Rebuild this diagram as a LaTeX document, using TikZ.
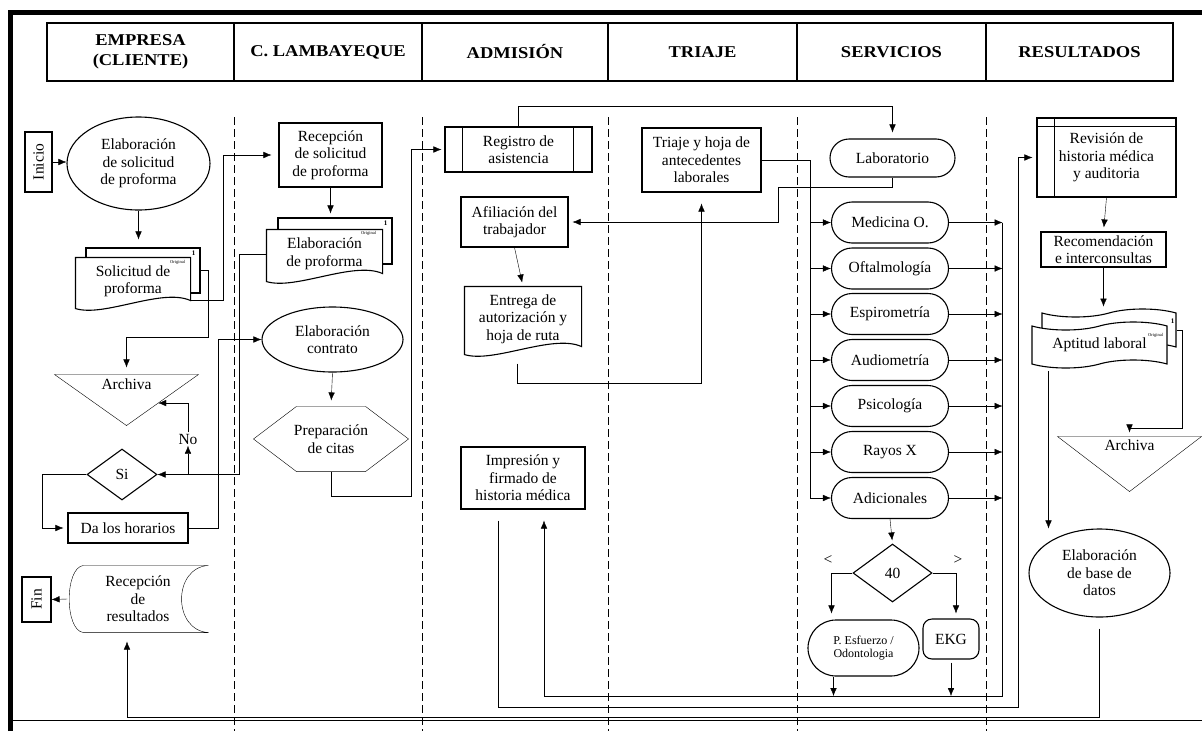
\documentclass[tikz,border=0pt]{standalone}
\usepackage{fontspec}
\usepackage{graphicx}
\setmainfont{Liberation Serif}
\newfontfamily\headfont[FakeStretch=1.12]{Liberation Serif Bold}
\usetikzlibrary{arrows.meta,calc,backgrounds,shapes.geometric,shapes.misc,shapes.symbols}

\newcommand{\drawbox}{\node[draw,rectangle,align=center,inner sep=1pt]}
\newcommand{\drawpill}{\node[draw,rounded rectangle,align=center,inner sep=1pt]}
\newcommand{\drawellip}{\node[draw,ellipse,align=center,inner sep=0pt]}
\newcommand{\drawdiam}{\node[draw,diamond,align=center,inner sep=0pt]}
\newcommand{\drawplain}{\node[align=center,inner sep=0pt]}
\newcommand{\drawsheet}{\node[draw,rectangle,fill=white,inner sep=0pt,line width=1.1pt]}
\newcommand{\drawtape}{\node[draw,tape,fill=white,align=center,inner sep=0pt,tape bend height=8pt]}
\newcommand{\drawhead}{\node[draw,rectangle,align=center,inner sep=0pt,minimum height=58pt,font=\headfont\fontsize{16.5pt}{20pt}\selectfont]}
\newcommand{\tinyorig}{\node[inner sep=0pt,font=\fontsize{4.5pt}{5pt}\selectfont]}
\newcommand{\tinyone}{\node[inner sep=0pt,font=\bfseries\fontsize{7pt}{8pt}\selectfont]}

% document outline with a wavy lower edge
\newcommand{\docline}[1]{\draw[fill=white,line width=1.1pt] (#1.north west) -- (#1.north east) -- ($(#1.south east)+(0,-5)$) .. controls ($(#1.south)!0.5!(#1.south east)+(0,-18)$) and ($(#1.south)!0.5!(#1.south west)+(0,12)$) .. ($(#1.south west)+(0,3)$) -- cycle;}

\begin{document}
\begin{tikzpicture}[x=1pt,y=-1pt,line width=1.1pt,>={Latex[length=8pt,width=6.5pt]},
  every node/.style={font=\fontsize{15.5pt}{17.5pt}\selectfont},
  lane/.style={line width=1pt,dash pattern=on 8pt off 4pt}]
\useasboundingbox (0,0) rectangle (1202,731);

%frame and swimlanes
\draw[line width=5pt] (10.5,731) -- (10.5,12.5) -- (1202,12.5);
\draw[line width=1pt] (10.5,720) -- (1202,720);
\draw[lane] (234,117) -- (234,731);
\draw[lane] (422,117) -- (422,731);
\draw[lane] (608,117) -- (608,731);
\draw[lane] (797,117) -- (797,731);
\draw[lane] (986,117) -- (986,731);

%header row
\drawhead[minimum width=187pt] (hEmp) at (140.5,52) {EMPRESA\\(CLIENTE)};
\drawhead[minimum width=188pt] (hLam) at (328,52) {C. LAMBAYEQUE};
\drawhead[minimum width=186pt] (hAdm) at (515,52) {ADMISIÓN};
\drawhead[minimum width=189pt] (hTri) at (702.5,52) {TRIAJE};
\drawhead[minimum width=189pt] (hSer) at (891.5,52) {SERVICIOS};
\drawhead[minimum width=187pt] (hRes) at (1079.5,52) {RESULTADOS};

%empresa
\drawbox[minimum width=27pt,minimum height=60pt,inner sep=0pt] (inicio) at (38.5,162) {\rotatebox{90}{Inicio}};
\drawellip[minimum width=143pt,minimum height=93pt] (solProf) at (138.5,163.5) {Elaboración\\de solicitud\\de proforma};
\drawplain[minimum width=114pt,minimum height=47pt] (solDoc) at (133,281.5) {Solicitud de\\proforma};
\node[inner sep=0pt,minimum width=143pt,minimum height=50pt,label={[anchor=north,inner sep=0pt,yshift=-4pt]north:Archiva}] (archL) at (126.5,400) {};
\drawdiam[minimum width=70pt,minimum height=51pt] (siDec) at (122,474.5) {Si};
\drawbox[minimum width=120pt,minimum height=30pt] (horarios) at (128,528) {Da los horarios};
\drawplain[minimum width=140pt,minimum height=66pt] (recRes) at (138,599) {Recepción\\de\\resultados};
\drawbox[minimum width=29pt,minimum height=45pt,inner sep=0pt] (fin) at (36.5,599.5) {\rotatebox{90}{Fin}};
\node[inner sep=1pt] (noLbl) at (188,439) {No};

%c. lambayeque
\drawbox[minimum width=103pt,minimum height=64pt] (recProf) at (330.5,155) {Recepción\\de solicitud\\de proforma};
\drawplain[minimum width=115pt,minimum height=48pt] (elabDoc) at (324.5,254) {Elaboración\\de proforma};
\drawellip[minimum width=141pt,minimum height=65pt] (contrato) at (332.5,339.5) {Elaboración\\contrato};
\drawplain[minimum width=154pt,minimum height=64pt] (citas) at (331,439) {Preparación\\de citas};

%admision
\drawbox[minimum width=147pt,minimum height=45pt] (registro) at (518.5,149.5) {Registro de\\asistencia};
\drawbox[minimum width=107pt,minimum height=50pt] (afil) at (514.5,222) {Afiliación del\\trabajador};
\drawplain[minimum width=116pt,minimum height=64pt] (entrega) at (523,319) {Entrega de\\autorización y\\hoja de ruta};
\drawbox[minimum width=124pt,minimum height=62pt] (impresion) at (523,478) {Impresión y\\firmado de\\historia médica};

%triaje
\drawbox[minimum width=119pt,minimum height=64pt] (triaje) at (701.5,160) {Triaje y hoja de\\antecedentes\\laborales};

%servicios
\drawpill[minimum width=127pt,minimum height=38pt] (lab) at (892.5,158) {Laboratorio};
\drawpill[minimum width=119pt,minimum height=41pt] (med) at (890,222.5) {Medicina O.};
\drawpill[minimum width=119pt,minimum height=41pt] (oft) at (890,268.5) {Oftalmología};
\drawpill[minimum width=119pt,minimum height=41pt] (espiro) at (890,314) {Espirometría};
\drawpill[minimum width=119pt,minimum height=41pt] (audio) at (890,360) {Audiometría};
\drawpill[minimum width=119pt,minimum height=41pt] (psico) at (890,406) {Psicología};
\drawpill[minimum width=119pt,minimum height=41pt] (rayos) at (890,452) {Rayos X};
\drawpill[minimum width=119pt,minimum height=41pt] (adic) at (890,498) {Adicionales};
\drawdiam[minimum width=79pt,minimum height=58pt] (cond) at (892.5,573) {40};
\node (ltLbl) at (828,560) {<};
\node (gtLbl) at (958,560) {>};
\drawpill[minimum width=113pt,minimum height=56pt,font=\fontsize{12pt}{13pt}\selectfont] (esfuerzo) at (863.5,648) {P. Esfuerzo /\\Odontologia};
\drawbox[minimum width=56pt,minimum height=40pt,rounded corners=9pt] (ekg) at (951,639) {EKG};

%resultados
\drawbox[minimum width=139pt,minimum height=79pt] (revision) at (1106.5,157.5) {Revisión de\\historia médica\\y auditoria};
\drawbox[minimum width=125pt,minimum height=35pt,inner sep=0pt] (recom) at (1103.5,249.5) {Recomendación\\e interconsultas};
\drawtape[minimum width=134pt,minimum height=42pt] (aptBack) at (1109,330) {};
\drawtape[minimum width=135pt,minimum height=46pt] (aptitud) at (1099.5,345) {Aptitud laboral};
\node[inner sep=0pt,minimum width=143pt,minimum height=54pt,label={[anchor=north,inner sep=0pt,yshift=-3pt]north:Archiva}] (archR) at (1129.5,464) {};
\drawellip[minimum width=141pt,minimum height=88pt] (baseDatos) at (1099.5,573) {Elaboración\\de base de\\datos};

%shape outlines
\begin{pgfonlayer}{background}
\drawsheet[minimum width=114pt,minimum height=45pt] (solBack) at (143,270.5) {};
\docline{solDoc}
\drawsheet[minimum width=114pt,minimum height=46pt] (elabBack) at (335,241) {};
\docline{elabDoc}
\docline{entrega}
\end{pgfonlayer}
\draw (archL.north west) -- (archL.north east) -- (archL.south) -- cycle;
\draw (archR.north west) -- (archR.north east) -- (archR.south) -- cycle;
\draw ($(citas.north west)+(43,0)$) -- ($(citas.north east)+(-43,0)$) -- (citas.east) -- ($(citas.south east)+(-43,0)$) -- ($(citas.south west)+(43,0)$) -- (citas.west) -- cycle;
\draw (recRes.north east) -- ($(recRes.north west)+(16,0)$) .. controls ($(recRes.north west)+(-3,2)$) and ($(recRes.south west)+(-3,-2)$) .. ($(recRes.south west)+(16,0)$) -- (recRes.south east) .. controls ($(recRes.south east)+(-36,-2)$) and ($(recRes.north east)+(-36,2)$) .. (recRes.north east);
\draw ($(registro.north west)+(18,0)$) -- ($(registro.south west)+(18,0)$);
\draw ($(registro.north east)+(-19,0)$) -- ($(registro.south east)+(-19,0)$);
\draw ($(revision.north west)+(18,0)$) -- ($(revision.south west)+(18,0)$);
\draw ($(revision.north west)+(0,9)$) -- ($(revision.north east)+(0,9)$);

\tinyone (solOne) at ($(solBack.north east)+(-7,6)$) {1};
\tinyorig (solOrig) at ($(solDoc.north east)+(-13,5)$) {Original};
\tinyone (elabOne) at ($(elabBack.north east)+(-7,6)$) {1};
\tinyorig (elabOrig) at ($(elabDoc.north east)+(-14,4)$) {Original};
\tinyone (aptOne) at ($(aptBack.north east)+(-4,8)$) {1};
\tinyorig (aptOrig) at ($(aptitud.north east)+(-12,9)$) {Original};

%empresa flow
\draw[->] (inicio.east) -- (inicio.east -| solProf.west);
\draw[->,shorten >=8pt] (solProf.south) -- (solProf.south |- solBack.north);
\draw[->,shorten >=7pt] ($(solDoc.south east)+(0,-5)$) -- ++(33,0) |- (recProf.west);
\draw[->,shorten >=7pt] (solBack.east) -- ++(8,0) -- ++(0,66.5) -| (archL.north);
\draw[->] (elabDoc.west) -- ++(-27,0) |- (siDec.east);
\coordinate (noFork) at (noLbl |- siDec.east);
\draw[->] (noFork) -- (noLbl.south);
\draw[->] (noLbl.north) |- ($(archL.north east)!0.56!(archL.south)$);
\draw[->,shorten >=4pt] (siDec.west) -- ++(-44,0) |- (horarios.west);
\draw[->] (horarios.east) -- ++(30,0) |- (contrato.west);
\draw[->] (recRes.west) -- (fin.east);

%lambayeque flow
\draw[->,shorten >=4pt] (recProf.south) -- (recProf.south |- elabBack.north);
\draw[->,shorten >=6pt] (contrato.south) -- (citas.north);
\draw[->,shorten >=3pt] (citas.south) -- ++(0,25) -- ++(80,0) |- (registro.west);

%admision and triaje
\draw[->,shorten >=6pt] (registro.north) -- ++(0,-20) -| (lab.north);
\draw[->,shorten >=4pt] (lab.south) -- ++(0,10) -- ++(-114,0) |- (afil.east);
\draw[->,shorten >=4pt] (afil.south) -- (entrega.north);
\coordinate (entOut) at ($(entrega.south)+(-6,12)$);
\draw[->,shorten >=11pt] (entOut) -- ++(0,20) -| (triaje.south);

%servicios
\draw[->] (triaje.east) -- ++(49,0) coordinate (bus) |- (adic.west);
\draw[->] (bus |- med.west) -- (med.west);
\draw[->] (bus |- oft.west) -- (oft.west);
\draw[->] (bus |- espiro.west) -- (espiro.west);
\draw[->] (bus |- audio.west) -- (audio.west);
\draw[->] (bus |- psico.west) -- (psico.west);
\draw[->] (bus |- rayos.west) -- (rayos.west);
\coordinate (collTop) at ($(med.east)+(53.5,0)$);
\draw[->] (med.east) -- (collTop);
\draw[->] (oft.east) -- (oft.east -| collTop);
\draw[->] (espiro.east) -- (espiro.east -| collTop);
\draw[->] (audio.east) -- (audio.east -| collTop);
\draw[->] (psico.east) -- (psico.east -| collTop);
\draw[->] (rayos.east) -- (rayos.east -| collTop);
\draw[->] (adic.east) -- (adic.east -| collTop);
\coordinate (printIn) at ($(impresion.south)+(21,0)$);
\draw[->,shorten >=11pt] (collTop) -- ++(0,473.5) coordinate (collBot) -| (printIn);
\draw[->,shorten >=3pt] (adic.south) -- (cond.north);
\draw[->,shorten >=6pt] (cond.west) -| ($(esfuerzo.north)+(-32,0)$);
\draw[->,shorten >=5pt] (cond.east) -| ($(ekg.north)+(5,0)$);
\coordinate (esOut) at ($(esfuerzo.south)+(-30,0)$);
\draw[->] (esOut) -- (esOut |- collBot);
\draw[->,shorten <=3pt] (ekg.south) -- (ekg.south |- collBot);

%resultados flow
\coordinate (printOut) at ($(impresion.south)+(-25,11)$);
\draw[->,shorten >=4pt] (printOut) -- ++(0,187) -- ++(520,0) |- (revision.west);
\draw[->,shorten >=4pt] (revision.south) -- (recom.north);
\draw[->,shorten >=6pt] (recom.south) -- (recom.south |- aptBack.north);
\draw[->,shorten >=4pt] (aptBack.east) -- ++(6,0) -- ++(0,98) -| (archR.north);
\coordinate (aptOut) at ($(aptitud.south)+(-51,7)$);
\draw[->] (aptOut) -- (aptOut |- baseDatos.north);
\coordinate (resIn) at ($(recRes.south)+(-11,0)$);
\draw[->,shorten <=11pt,shorten >=9pt] (baseDatos.south) -- ++(0,100) -| (resIn);

\end{tikzpicture}
\end{document}
